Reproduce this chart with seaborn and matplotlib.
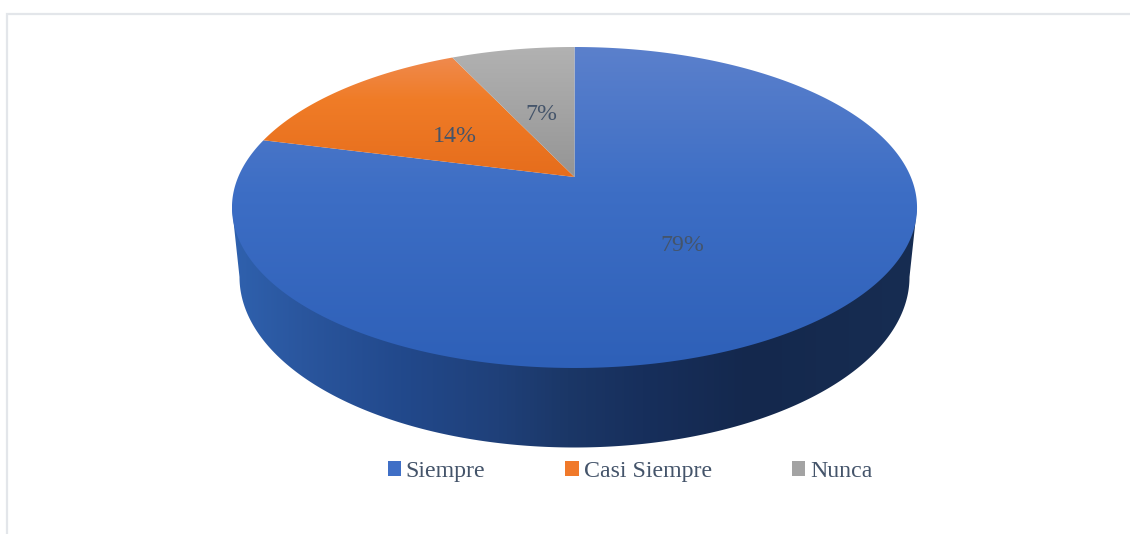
import numpy as np
import matplotlib
matplotlib.use("Agg")
import matplotlib.pyplot as plt
from matplotlib.colors import LinearSegmentedColormap
from matplotlib.patches import Patch, PathPatch
from matplotlib.path import Path
import seaborn as sns

categories = ["Siempre", "Casi Siempre", "Nunca"]
values = [79, 14, 7]
legend_colors = ["#3F6FC6", "#F0792A", "#A3A3A3"]

sns.set_theme(style="white")
plt.rcParams["font.family"] = ["Liberation Serif", "DejaVu Serif"]
TEXT = "#44546A"
FS = 17.2

# perspective of the pie's top face (pixel coordinates)
CX, AX_Y, TILT, SY, SX = 574.5, 177.0, 0.19, -121.07, 336.3
def project(u, v):
    w = 1 + TILT * v
    return CX + SX * u / w, (AX_Y + SY * v) / w

W, H = 1130, 534
fig = plt.figure(figsize=(W / 100, H / 100), dpi=100, facecolor="white")
ax = fig.add_axes([0, 0, 1, 1])

# hidden pie: supplies wedge angles from the values
helper = fig.add_axes([0, 0, 0.1, 0.1], visible=False)
wedges, _ = helper.pie(values, startangle=90, counterclock=False, radius=1)

def gradient(colors, extent, vertical, clip):
    cmap = LinearSegmentedColormap.from_list("g", colors)
    t = np.linspace(0, 1, 256)
    arr = t[:, None] if vertical else t[None, :]
    im = ax.imshow(arr, cmap=cmap, extent=extent, origin="upper", aspect="auto",
                   interpolation="bilinear", zorder=2)
    patch = PathPatch(clip, transform=ax.transData, fc="none", ec="none")
    ax.add_patch(patch)
    im.set_clip_path(patch)

# side wall
tt = np.linspace(np.pi, 0, 300)
bottom = np.column_stack([CX + 335.0 * np.cos(tt), 277 + 170.5 * np.sin(tt)])
side_pts = np.vstack([[[232, 207.5]], bottom, [[917, 207.5]], [[CX, 207.5]]])
side_path = Path(np.vstack([side_pts, side_pts[:1]]), closed=True)
side_stops = [(0.0, "#2F61AE"), (0.10, "#2A569E"), (0.245, "#22498C"),
              (0.39, "#1F4079"), (0.49, "#1B3767"), (0.60, "#172F5C"),
              (0.756, "#14284D"), (1.0, "#172D52")]
gradient(side_stops, (232, 917, 448, 207), False, side_path)

# top face
face_stops = [
    [(0, "#5B80CC"), (0.45, "#3D6EC5"), (1, "#2E60B8")],
    [(0, "#EF8A4E"), (0.35, "#F07C27"), (1, "#E66D1C")],
    [(0, "#B2B2B2"), (1, "#959595")],
]
for w, stops in zip(wedges, face_stops):
    ang = np.deg2rad(np.linspace(w.theta1, w.theta2, 400))
    u = np.r_[0, np.cos(ang), 0]
    v = np.r_[0, np.sin(ang), 0]
    px, py = project(u, v)
    clip = Path(np.column_stack([px, py]), closed=True)
    gradient(stops, (px.min(), px.max(), py.max(), py.min()), True, clip)

# data labels at the projected mid-angle of each wedge
for w, val in zip(wedges, values):
    mid = np.deg2rad((w.theta1 + w.theta2) / 2)
    lx, ly = project(0.485 * np.cos(mid), 0.485 * np.sin(mid))
    ax.text(lx - 0.5, ly + 5, f"{val}%", ha="center", va="center", color=TEXT,
            fontsize=FS, zorder=5)

# chart frame
ax.plot([6.5, 6.5, W], [H, 13.5, 13.5], color="#E3E6EA", lw=1.6, zorder=1,
        solid_joinstyle="miter")

ax.set_xlim(0, W)
ax.set_ylim(H, 0)
ax.axis("off")

handles = [Patch(facecolor=c, edgecolor="none", label=n)
           for n, c in zip(categories, legend_colors)]
ax.legend(handles=handles, ncol=3, loc="center", frameon=False, fontsize=FS,
          labelcolor=TEXT, handlelength=0.56, handleheight=0.56,
          handletextpad=0.2, columnspacing=3.35,
          bbox_to_anchor=(630 / W, 1 - 471.5 / H), bbox_transform=ax.transAxes,
          borderpad=0, borderaxespad=0)

fig.savefig("out.png", dpi=100, facecolor="white")
